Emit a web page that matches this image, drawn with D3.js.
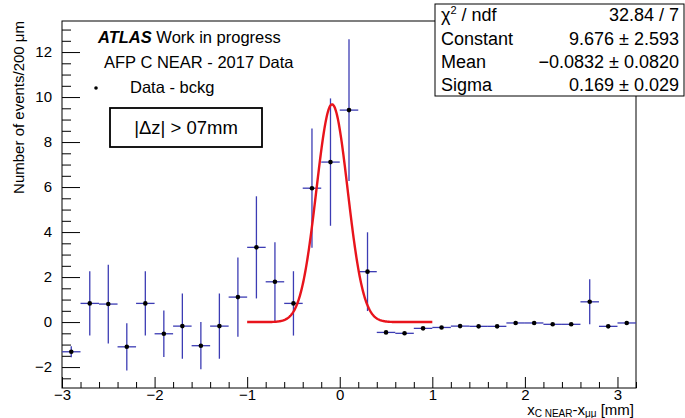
<!DOCTYPE html>
<html>
<head>
<meta charset="utf-8">
<script src="https://cdn.jsdelivr.net/npm/d3@7"></script>
<style>
  body { margin: 0; background: #fff; }
  svg { font-family: "Liberation Sans", Arial, sans-serif; }
</style>
</head>
<body>
<div id="chart"></div>
<script>
// Bin centres (mm), bin contents and vertical errors.
var binCenters = [-2.9, -2.7, -2.5, -2.3, -2.1, -1.9, -1.7, -1.5, -1.3, -1.1,
                  -0.9, -0.7, -0.5, -0.3, -0.1, 0.1, 0.3, 0.5, 0.7, 0.9,
                  1.1, 1.3, 1.5, 1.7, 1.9, 2.1, 2.3, 2.5, 2.7, 2.9, 3.1];
var binValues = [-1.32, 0.83, 0.80, -1.10, 0.83, -0.52, -0.18, -1.05, -0.18, 1.11,
                 3.32, 1.79, 0.83, 5.95, 7.11, 9.42, 2.24, -0.46, -0.50, -0.28,
                 -0.24, -0.18, -0.19, -0.19, -0.04, -0.04, -0.10, -0.10, 0.90, -0.19, -0.04];
var binErrors = [0.24, 1.43, 1.75, 1.05, 1.43, 1.03, 1.45, 1.05, 1.45, 1.76,
                 2.27, 1.76, 1.43, 2.65, 2.83, 3.15, 1.75, 0.05, 0.05, 0.04,
                 0.04, 0.03, 0.03, 0.03, 0.03, 0.03, 0.03, 0.03, 1.00, 0.03, 0.03];
var binHalfWidth = 0.1;

// Gaussian fit parameters (from the stats box).
var fitConstant = 9.676, fitMean = -0.0832, fitSigma = 0.169;
var fitRange = [-1, 1];

var statLabels = ["χ2 / ndf", "Constant", "Mean", "Sigma"];
var statValues = ["32.84 / 7", "9.676 \u00b1 2.593", "\u22120.0832 \u00b1 0.0820", "0.169 \u00b1 0.029"];

var xMajorTicks = [-3, -2, -1, 0, 1, 2, 3];
var yMajorTicks = [-2, 0, 2, 4, 6, 8, 10, 12];

var W = 685, H = 418;
var frame = { left: 62, right: 636, top: 21, bottom: 388 };

var svg = d3.select("#chart").append("svg")
  .attr("width", W)
  .attr("height", H);

var xScale = d3.scaleLinear().domain([-3, 3.2]).range([frame.left, frame.right]);
var yScale = d3.scaleLinear().domain([-2.93, 13.38]).range([frame.bottom, frame.top]);

var fmt = function(d) { return d < 0 ? "\u2212" + Math.abs(d) : "" + d; };

// Frame.
svg.append("rect")
  .attr("x", frame.left).attr("y", frame.top)
  .attr("width", frame.right - frame.left)
  .attr("height", frame.bottom - frame.top)
  .attr("fill", "none").attr("stroke", "#000").attr("stroke-width", 1);

// Y axis: ticks point into the frame.
var yMinor = d3.range(-2.5, 13.01, 0.5).filter(function(d) { return d % 2 !== 0; });
svg.append("g")
  .attr("class", "y_minor")
  .attr("transform", "translate(" + frame.left + ",0)")
  .call(d3.axisLeft(yScale).tickValues(yMinor).tickSize(-9).tickFormat(""));
svg.append("g")
  .attr("class", "y_axis")
  .attr("transform", "translate(" + frame.left + ",0)")
  .call(d3.axisLeft(yScale).tickValues(yMajorTicks).tickSize(-18).tickPadding(10).tickFormat(fmt));

// X axis.
var xMinor = d3.range(-2.8, 3.21, 0.2).filter(function(d) { return Math.abs(d - Math.round(d)) > 0.01; });
svg.append("g")
  .attr("class", "x_minor")
  .attr("transform", "translate(0," + frame.bottom + ")")
  .call(d3.axisBottom(xScale).tickValues(xMinor).tickSize(-6).tickFormat(""));
svg.append("g")
  .attr("class", "x_axis")
  .attr("transform", "translate(0," + frame.bottom + ")")
  .call(d3.axisBottom(xScale).tickValues(xMajorTicks).tickSize(-11).tickPadding(1).tickFormat(fmt));

svg.selectAll(".domain").remove();
svg.selectAll(".tick line").attr("stroke", "#000");
svg.selectAll(".tick text")
  .attr("font-size", "15px")
  .attr("fill", "#000")
  .attr("font-family", "Liberation Sans, Arial, sans-serif");

// Axis titles.
svg.append("text")
  .attr("transform", "translate(24," + frame.top + ") rotate(-90)")
  .attr("text-anchor", "end")
  .attr("font-size", "15px")
  .text("Number of events/200 \u03bcm");

var xt = svg.append("text")
  .attr("x", 634).attr("y", 415)
  .attr("text-anchor", "end")
  .attr("font-size", "15px");
xt.append("tspan").text("x");
xt.append("tspan").attr("font-size", "10px").attr("dy", 2).text("C NEAR");
xt.append("tspan").attr("dy", -2).text("-x");
xt.append("tspan").attr("font-size", "10px").attr("dy", 2).text("\u03bc\u03bc");
xt.append("tspan").attr("dy", -2).text(" [mm]");

// Data points with error bars.
var points = binCenters.map(function(x, i) {
  return { x: x, y: binValues[i], e: binErrors[i] };
});

var g = svg.append("g").attr("class", "data");
var errColor = "#3c3cb4";

g.selectAll(".xerr").data(points).enter().append("line")
  .attr("class", "xerr")
  .attr("x1", function(d) { return xScale(d.x - binHalfWidth); })
  .attr("x2", function(d) { return xScale(d.x + binHalfWidth); })
  .attr("y1", function(d) { return yScale(d.y); })
  .attr("y2", function(d) { return yScale(d.y); })
  .attr("stroke", errColor).attr("stroke-width", 1.3);

g.selectAll(".yerr").data(points).enter().append("line")
  .attr("class", "yerr")
  .attr("x1", function(d) { return xScale(d.x); })
  .attr("x2", function(d) { return xScale(d.x); })
  .attr("y1", function(d) { return yScale(d.y - d.e); })
  .attr("y2", function(d) { return yScale(d.y + d.e); })
  .attr("stroke", errColor).attr("stroke-width", 1.3);

g.selectAll(".dot").data(points).enter().append("circle")
  .attr("class", "dot")
  .attr("cx", function(d) { return xScale(d.x); })
  .attr("cy", function(d) { return yScale(d.y); })
  .attr("r", 2.3)
  .attr("fill", "#000");

// Gaussian fit curve.
var fitX = d3.range(fitRange[0], fitRange[1] + 1e-9, 0.005);
var gauss = function(x) {
  return fitConstant * Math.exp(-0.5 * Math.pow((x - fitMean) / fitSigma, 2));
};
var line = d3.line()
  .x(function(d) { return xScale(d); })
  .y(function(d) { return yScale(gauss(d)); });
svg.append("path")
  .datum(fitX)
  .attr("d", line)
  .attr("fill", "none")
  .attr("stroke", "#e8141c")
  .attr("stroke-width", 2.4);

// Legend text.
var t1 = svg.append("text").attr("x", 98).attr("y", 43).attr("font-size", "16.5px");
t1.append("tspan").attr("font-weight", "bold").attr("font-style", "italic").text("ATLAS");
t1.append("tspan").text(" Work in progress");

svg.append("text").attr("x", 104).attr("y", 68).attr("font-size", "16.5px")
  .text("AFP C NEAR - 2017 Data");

svg.append("circle").attr("cx", 96).attr("cy", 88).attr("r", 1.8).attr("fill", "#000");
svg.append("text").attr("x", 130).attr("y", 93).attr("font-size", "16.5px")
  .text("Data - bckg");

svg.append("rect")
  .attr("x", 110).attr("y", 108).attr("width", 152).attr("height", 39)
  .attr("fill", "#fff").attr("stroke", "#000").attr("stroke-width", 1.8);
svg.append("text")
  .attr("x", 186).attr("y", 134)
  .attr("text-anchor", "middle")
  .attr("font-size", "18.5px")
  .text("|\u0394z| > 07mm");

// Stats box.
var stats = svg.append("g").attr("class", "stats");
stats.append("rect")
  .attr("x", 435).attr("y", 4).attr("width", 249).attr("height", 92)
  .attr("fill", "#fff").attr("stroke", "#000").attr("stroke-width", 1);

var rowY = [22, 46, 69, 92];
statLabels.forEach(function(lbl, i) {
  var t = stats.append("text").attr("x", 441).attr("y", rowY[i] - 1).attr("font-size", "18px");
  if (i === 0) {
    t.append("tspan").text("\u03c7");
    t.append("tspan").attr("font-size", "11px").attr("dy", -7).text("2");
    t.append("tspan").attr("dy", 7).text(" / ndf");
  } else {
    t.text(lbl);
  }
  stats.append("text")
    .attr("x", 679).attr("y", rowY[i] - 1)
    .attr("text-anchor", "end")
    .attr("font-size", "18px")
    .text(statValues[i]);
});
</script>
</body>
</html>
